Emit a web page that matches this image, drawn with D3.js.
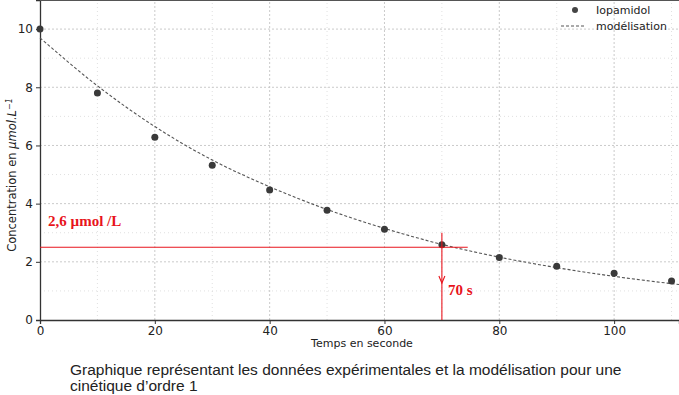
<!DOCTYPE html>
<html>
<head>
<meta charset="utf-8">
<script src="https://cdn.jsdelivr.net/npm/d3@7"></script>
<style>
  body { margin: 0; background: #fff; }
  svg { display: block; }
</style>
</head>
<body>
<div class="chart"></div>
<script>
// mesures (temps en s, concentration en µmol/L)
var temps = [0, 10, 20, 30, 40, 50, 60, 70, 80, 90, 100, 110];
var iopamidol = [10.0, 7.8, 6.28, 5.32, 4.47, 3.77, 3.12, 2.59, 2.15, 1.85, 1.61, 1.34];
// modélisation
var tempsModele = [0, 10, 20, 30, 40, 50, 60, 70, 80, 90, 100, 110, 115];
var modele = [9.7, 8.05, 6.65, 5.5, 4.58, 3.8, 3.15, 2.6, 2.16, 1.8, 1.5, 1.25, 1.14];
var xTicks = [0, 20, 40, 60, 80, 100];
var yTicks = [0, 2, 4, 6, 8, 10];
var lecture = { t: 70, c: 2.5, label: "2,6 µmol /L", tLabel: "70 s" };

var W = 679, H = 395;

var svg = d3.select(".chart").append("svg")
    .attr("width", W)
    .attr("height", H);

var x = d3.scaleLinear().domain([0, 111.3]).range([40, W]);
var y = d3.scaleLinear().domain([0, 11]).range([320, 0]);

// grille secondaire
var g = svg.append("g");
g.selectAll(".minx").data(d3.range(10, 111, 20))
    .enter().append("line")
    .attr("x1", function (d) { return x(d); }).attr("x2", function (d) { return x(d); })
    .attr("y1", y(0)).attr("y2", 0)
    .attr("stroke", "#d8d8d8").attr("stroke-width", 0.8).attr("stroke-dasharray", "1,3");
g.selectAll(".miny").data(d3.range(1, 11, 2))
    .enter().append("line")
    .attr("x1", x(0)).attr("x2", W)
    .attr("y1", function (d) { return y(d); }).attr("y2", function (d) { return y(d); })
    .attr("stroke", "#d8d8d8").attr("stroke-width", 0.8).attr("stroke-dasharray", "1,3");
// grille principale
g.selectAll(".majx").data(xTicks.slice(1))
    .enter().append("line")
    .attr("x1", function (d) { return x(d); }).attr("x2", function (d) { return x(d); })
    .attr("y1", y(0)).attr("y2", 0)
    .attr("stroke", "#c4c4c4").attr("stroke-width", 0.9).attr("stroke-dasharray", "2,2");
g.selectAll(".majy").data(yTicks.slice(1))
    .enter().append("line")
    .attr("x1", x(0)).attr("x2", W)
    .attr("y1", function (d) { return y(d); }).attr("y2", function (d) { return y(d); })
    .attr("stroke", "#c4c4c4").attr("stroke-width", 0.9).attr("stroke-dasharray", "2,2");

// axes
var xAxis = svg.append("g")
    .attr("transform", "translate(0," + y(0) + ")")
    .call(d3.axisBottom(x).tickValues(xTicks).tickSize(4).tickPadding(2));
var yAxis = svg.append("g")
    .attr("transform", "translate(" + x(0) + ",0)")
    .call(d3.axisLeft(y).tickValues(yTicks).tickSize(4).tickPadding(3));
[xAxis, yAxis].forEach(function (a) {
    a.select(".domain").attr("stroke", "#333").attr("stroke-width", 1.3);
    a.selectAll(".tick line").attr("stroke", "#333");
    a.selectAll("text").attr("font-family", "DejaVu Sans").attr("font-size", 12).attr("fill", "#222");
});
svg.append("line").attr("x1", x(0)).attr("x2", W).attr("y1", 0.5).attr("y2", 0.5)
    .attr("stroke", "#555").attr("stroke-width", 1);

svg.append("text")
    .attr("x", 362).attr("y", 347)
    .attr("text-anchor", "middle")
    .attr("font-family", "DejaVu Sans").attr("font-size", 11).attr("fill", "#222")
    .text("Temps en seconde");

var yl = svg.append("text")
    .attr("transform", "translate(16,175) rotate(-90)")
    .attr("text-anchor", "middle")
    .attr("font-family", "DejaVu Sans").attr("font-size", 11.5).attr("fill", "#222");
yl.append("tspan").text("Concentration en ");
yl.append("tspan").attr("font-style", "italic").text("μmol.L");
yl.append("tspan").attr("font-style", "italic").attr("dy", -4).attr("font-size", 8).text("−1");

// modélisation
var line = d3.line()
    .x(function (d, i) { return x(tempsModele[i]); })
    .y(function (d) { return y(d); })
    .curve(d3.curveMonotoneX);
svg.append("path").datum(modele)
    .attr("d", line)
    .attr("fill", "none").attr("stroke", "#555").attr("stroke-width", 1.1)
    .attr("stroke-dasharray", "3,2");

// points
svg.selectAll(".pt").data(iopamidol)
    .enter().append("circle")
    .attr("cx", function (d, i) { return x(temps[i]); })
    .attr("cy", function (d) { return y(d); })
    .attr("r", 3.5)
    .attr("fill", "#3a3a3a");

// lecture graphique en rouge
var red = "#e8141c";
svg.append("line")
    .attr("x1", x(0)).attr("x2", x(74.5))
    .attr("y1", y(lecture.c)).attr("y2", y(lecture.c))
    .attr("stroke", red).attr("stroke-width", 1.1);
svg.append("line")
    .attr("x1", x(lecture.t)).attr("x2", x(lecture.t))
    .attr("y1", y(3.0)).attr("y2", y(0))
    .attr("stroke", red).attr("stroke-width", 1.1);
svg.append("path")
    .attr("d", "M" + (x(lecture.t) - 3) + "," + 276 + "L" + x(lecture.t) + "," + 283 + "L" + (x(lecture.t) + 3) + "," + 276)
    .attr("fill", "none").attr("stroke", red).attr("stroke-width", 1.1);
svg.append("text")
    .attr("x", 48).attr("y", 226)
    .attr("font-family", "Liberation Serif").attr("font-weight", "bold")
    .attr("font-size", 15).attr("fill", red)
    .text(lecture.label);
svg.append("text")
    .attr("x", 448).attr("y", 295)
    .attr("font-family", "Liberation Serif").attr("font-weight", "bold")
    .attr("font-size", 15).attr("fill", red)
    .text(lecture.tLabel);

// légende
var leg = svg.append("g");
leg.append("circle").attr("cx", 575).attr("cy", 10).attr("r", 3).attr("fill", "#444");
leg.append("line").attr("x1", 561).attr("x2", 585).attr("y1", 26).attr("y2", 26)
    .attr("stroke", "#555").attr("stroke-width", 1).attr("stroke-dasharray", "3,2");
leg.append("text").attr("x", 596).attr("y", 14)
    .attr("font-family", "DejaVu Sans").attr("font-size", 11).attr("fill", "#222").text("Iopamidol");
leg.append("text").attr("x", 596).attr("y", 30)
    .attr("font-family", "DejaVu Sans").attr("font-size", 11).attr("fill", "#222").text("modélisation");

// légende sous le graphique
svg.append("text")
    .attr("x", 70).attr("y", 375)
    .attr("font-family", "Liberation Sans").attr("font-size", 15.5).attr("fill", "#222")
    .text("Graphique représentant les données expérimentales et la modélisation pour une");
svg.append("text")
    .attr("x", 70).attr("y", 391)
    .attr("font-family", "Liberation Sans").attr("font-size", 15.5).attr("fill", "#222")
    .text("cinétique d’ordre 1");
</script>
</body>
</html>
